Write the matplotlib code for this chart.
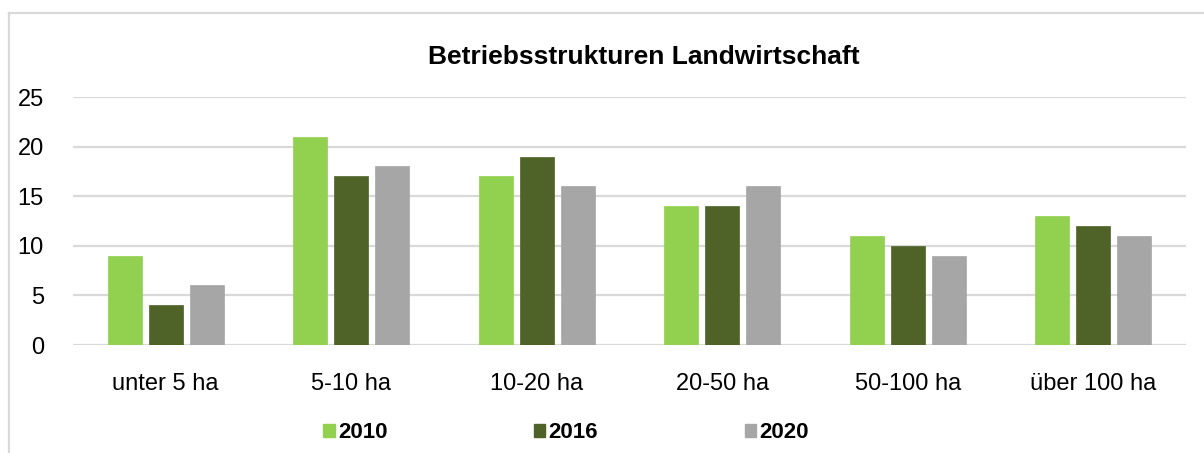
import matplotlib
matplotlib.use("Agg")
import matplotlib.pyplot as plt
from matplotlib.lines import Line2D
from matplotlib.patches import Patch
import numpy as np

categories = ["unter 5 ha", "5-10 ha", "10-20 ha", "20-50 ha", "50-100 ha", "über 100 ha"]
series_names = ["2010", "2016", "2020"]
v2010 = [9, 21, 17, 14, 11, 13]
v2016 = [4, 17, 19, 14, 10, 12]
v2020 = [6, 18, 16, 16, 9, 11]
colors = ["#92D050", "#4F6228", "#A6A6A6"]
yticks = [0, 5, 10, 15, 20, 25]

plt.rcParams['font.family'] = ['Liberation Sans', 'DejaVu Sans']

W, H = 1204, 453
fig = plt.figure(figsize=(W / 100, H / 100), dpi=100)
ax = fig.add_axes([73 / W, 1 - 345 / H, (1186 - 73) / W, (345 - 97) / H])

x = np.arange(len(categories))
pitch = 0.221
width = 0.183
for i, (vals, col, name) in enumerate(zip([v2010, v2016, v2020], colors, series_names)):
    ax.bar(x + (i - 1) * pitch, vals, width=width, color=col, label=name, zorder=3,
           edgecolor=col, linewidth=0.5)

ax.set_xlim(-0.5, len(categories) - 0.5)
ax.set_ylim(0, 25)
ax.set_yticks(yticks)
ax.set_xticks(x)
ax.set_xticklabels(categories)
ax.tick_params(axis='both', length=0, labelsize=17, colors='black')
ax.tick_params(axis='y', pad=21)
ax.tick_params(axis='x', pad=20)
ax.yaxis.grid(True, color='#D9D9D9', linewidth=1.6, zorder=0)
for s in ax.spines.values():
    s.set_visible(False)

fig.text(644 / W, 1 - 57 / H, "Betriebsstrukturen Landwirtschaft", ha='center', va='center',
         fontsize=19, fontweight='bold')

# outer chart frame (partially visible)
fig.add_artist(Line2D([9 / W, 1.0], [1 - 13 / H, 1 - 13 / H], transform=fig.transFigure,
                      color='#D9D9D9', linewidth=1.6))
fig.add_artist(Line2D([9 / W, 9 / W], [0, 1 - 13 / H], transform=fig.transFigure,
                      color='#D9D9D9', linewidth=1.6))

handles = [Patch(facecolor=c, edgecolor=c) for c in colors]
leg = fig.legend(handles, series_names, loc='center', bbox_to_anchor=(566 / W, 1 - 433 / H),
                 ncol=3, frameon=False, handlelength=0.5, handleheight=0.5,
                 handletextpad=0.15, columnspacing=6.6,
                 prop={'weight': 'bold', 'size': 16})

fig.savefig("out.png", dpi=100)
